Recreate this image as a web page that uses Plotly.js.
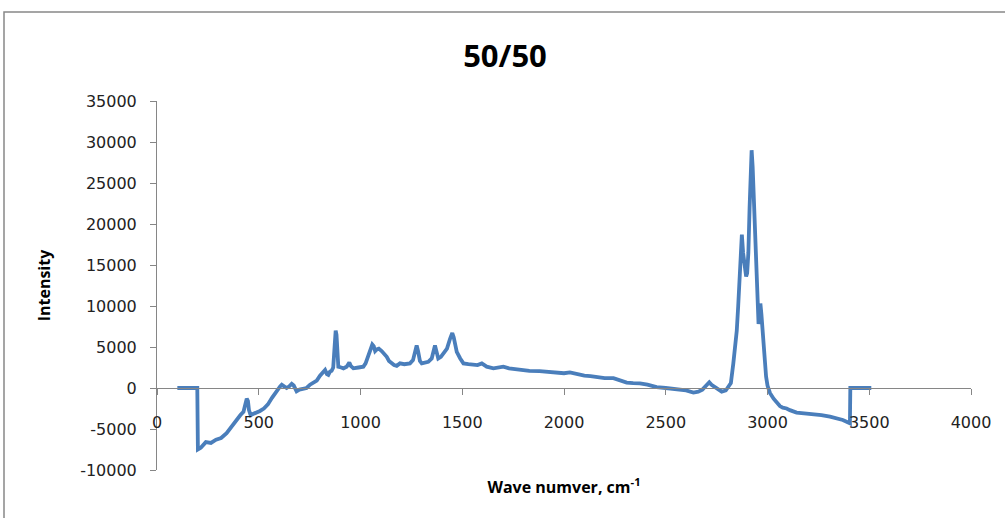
<!DOCTYPE html>
<html>
<head>
<meta charset="utf-8">
<script src="https://cdn.plot.ly/plotly-3.0.1.min.js"></script>
<style>
  html, body { margin: 0; padding: 0; background: #ffffff; }
  #chart { width: 1005px; height: 518px; }
</style>
</head>
<body>
<div id="chart"></div>
<script>
// Wave numbers (cm^-1)
const waveNumber = [
  100, 150, 198, 201, 215, 240, 265, 290, 315, 342, 365, 392, 410, 425, 435, 441, 447, 452, 460, 480,
  506, 525, 545, 565, 588, 605, 613, 625, 637, 650, 662, 672, 686, 700, 720, 735, 752, 770, 785, 801,
  815, 826, 835, 842, 850, 858, 866, 872, 878, 882, 886, 891, 905, 916, 932, 940, 945, 952, 965, 990,
  1014, 1025, 1038, 1050, 1058, 1065, 1072, 1080, 1090, 1104, 1115, 1129, 1140, 1153, 1165, 1178, 1194, 1215, 1243, 1258,
  1270, 1276, 1283, 1292, 1301, 1320, 1333, 1350, 1360, 1366, 1373, 1382, 1395, 1407, 1425, 1440, 1451, 1458, 1465, 1473,
  1490, 1506, 1530, 1555, 1575, 1596, 1620, 1653, 1680, 1702, 1730, 1784, 1830, 1880, 1915, 1960, 2000, 2029, 2060, 2100,
  2130, 2161, 2200, 2243, 2270, 2308, 2340, 2373, 2410, 2455, 2500, 2540, 2570, 2600, 2636, 2660, 2680, 2700, 2714, 2725,
  2742, 2760, 2775, 2795, 2808, 2820, 2832, 2842, 2849, 2856, 2862, 2868, 2874, 2880, 2889, 2895, 2900, 2906, 2912, 2917,
  2922, 2927, 2933, 2938, 2944, 2950, 2956, 2960, 2965, 2970, 2975, 2980, 2987, 2993, 3000, 3012, 3030, 3045, 3061, 3075,
  3085, 3094, 3110, 3143, 3180, 3225, 3265, 3307, 3340, 3370, 3405, 3407, 3450, 3510
];
// Intensity values
const intensity = [
  0, 0, 0, -7500, -7300, -6600, -6700, -6300, -6100, -5500, -4700, -3900, -3300, -2900, -1800, -1300, -1600, -2700, -3300, -3100,
  -2800, -2500, -2000, -1200, -300, 200, 400, 200, 0, 200, 500, 300, -400, -200, -100, 0, 400, 700, 900, 1500,
  1900, 2200, 1700, 1600, 2000, 2100, 2500, 4500, 7000, 6500, 4000, 2600, 2500, 2400, 2600, 3000, 3100, 2700, 2400, 2500,
  2600, 3000, 4000, 4700, 5300, 5100, 4500, 4700, 4800, 4500, 4200, 3800, 3300, 3000, 2800, 2700, 3000, 2900, 3000, 3400,
  4700, 5200, 4500, 3300, 3000, 3100, 3200, 3600, 4800, 5200, 4500, 3600, 3800, 4200, 4800, 6000, 6700, 6200, 5000, 4400,
  3600, 3000, 2900, 2800, 2800, 3000, 2600, 2400, 2500, 2600, 2400, 2200, 2100, 2050, 2000, 1900, 1800, 1900, 1700, 1500,
  1450, 1300, 1200, 1200, 1000, 650, 600, 570, 400, 100, 0, -100, -150, -300, -550, -450, -200, 400, 700, 400,
  100, -300, -450, -300, 100, 600, 3000, 5500, 7000, 10000, 13500, 17000, 18700, 16500, 14300, 13600, 14000, 16500, 22000, 28500,
  29000, 27000, 23000, 19000, 15000, 11000, 7800, 8500, 10300, 9000, 7000, 5500, 3000, 1400, 300, -600, -1300, -1700, -2200, -2400,
  -2400, -2500, -2700, -3000, -3100, -3200, -3300, -3500, -3700, -3900, -4300, 0, 0, 0
];
// Axis tick values and labels
const yTickValues = [-10000, -5000, 0, 5000, 10000, 15000, 20000, 25000, 30000, 35000];
const yTickLabels = ["-10000", "-5000", "0", "5000", "10000", "15000", "20000", "25000", "30000", "35000"];
const xTickValues = [0, 500, 1000, 1500, 2000, 2500, 3000, 3500, 4000];
const xTickLabels = ["0", "500", "1000", "1500", "2000", "2500", "3000", "3500", "4000"];
const chartTitle = "50/50";
const xTitle = "Wave numver, cm<sup>-1</sup>";
const yTitle = "Intensity";

const trace = {
  x: waveNumber,
  y: intensity,
  type: "scatter",
  mode: "lines",
  line: { color: "#4a7ebb", width: 3.8 },
  hoverinfo: "x+y",
  showlegend: false
};

const tickFont = { family: "DejaVu Sans, sans-serif", size: 16, color: "#222" };
const titleFont = { family: "Open Sans, sans-serif", size: 16, color: "#000" };

const layout = {
  width: 1005,
  height: 518,
  margin: { l: 157, r: 34, t: 101, b: 48 },
  paper_bgcolor: "#ffffff",
  plot_bgcolor: "#ffffff",
  showlegend: false,
  title: {
    text: "<b>" + chartTitle + "</b>",
    font: { family: "Open Sans, sans-serif", size: 31, color: "#000" },
    x: 505 / 1005,
    xanchor: "center",
    xref: "container",
    y: 1 - 56 / 518,
    yanchor: "middle",
    yref: "container"
  },
  xaxis: {
    range: [0, 4000],
    tickmode: "array",
    tickvals: xTickValues,
    ticktext: xTickLabels,
    showgrid: false,
    zeroline: false,
    showline: true,
    linecolor: "#868686",
    linewidth: 1,
    ticks: "outside",
    ticklen: 6,
    tickcolor: "#868686",
    tickfont: tickFont,
    ticklabelstandoff: 14,
    anchor: "free",
    position: 10000 / 45000,
    title: { text: "<b>" + xTitle + "</b>", font: titleFont, standoff: 50 },
    fixedrange: true
  },
  yaxis: {
    range: [-10000, 35000],
    tickmode: "array",
    tickvals: yTickValues,
    ticktext: yTickLabels,
    showgrid: false,
    zeroline: false,
    showline: true,
    linecolor: "#868686",
    linewidth: 1,
    ticks: "outside",
    ticklen: 6,
    tickcolor: "#868686",
    tickfont: tickFont,
    ticklabelstandoff: 10,
    title: { text: "<b>" + yTitle + "</b>", font: titleFont, standoff: 25 },
    fixedrange: true
  },
  shapes: [{
    type: "rect",
    xref: "paper",
    yref: "paper",
    x0: (4 - 157) / 814,
    x1: (1040 - 157) / 814,
    y0: (470 - 560) / 369,
    y1: (470 - 12) / 369,
    line: { color: "#888888", width: 1.5 },
    fillcolor: "rgba(0,0,0,0)",
    layer: "below"
  }]
};

Plotly.newPlot("chart", [trace], layout, { displayModeBar: false, staticPlot: true });
</script>
</body>
</html>
